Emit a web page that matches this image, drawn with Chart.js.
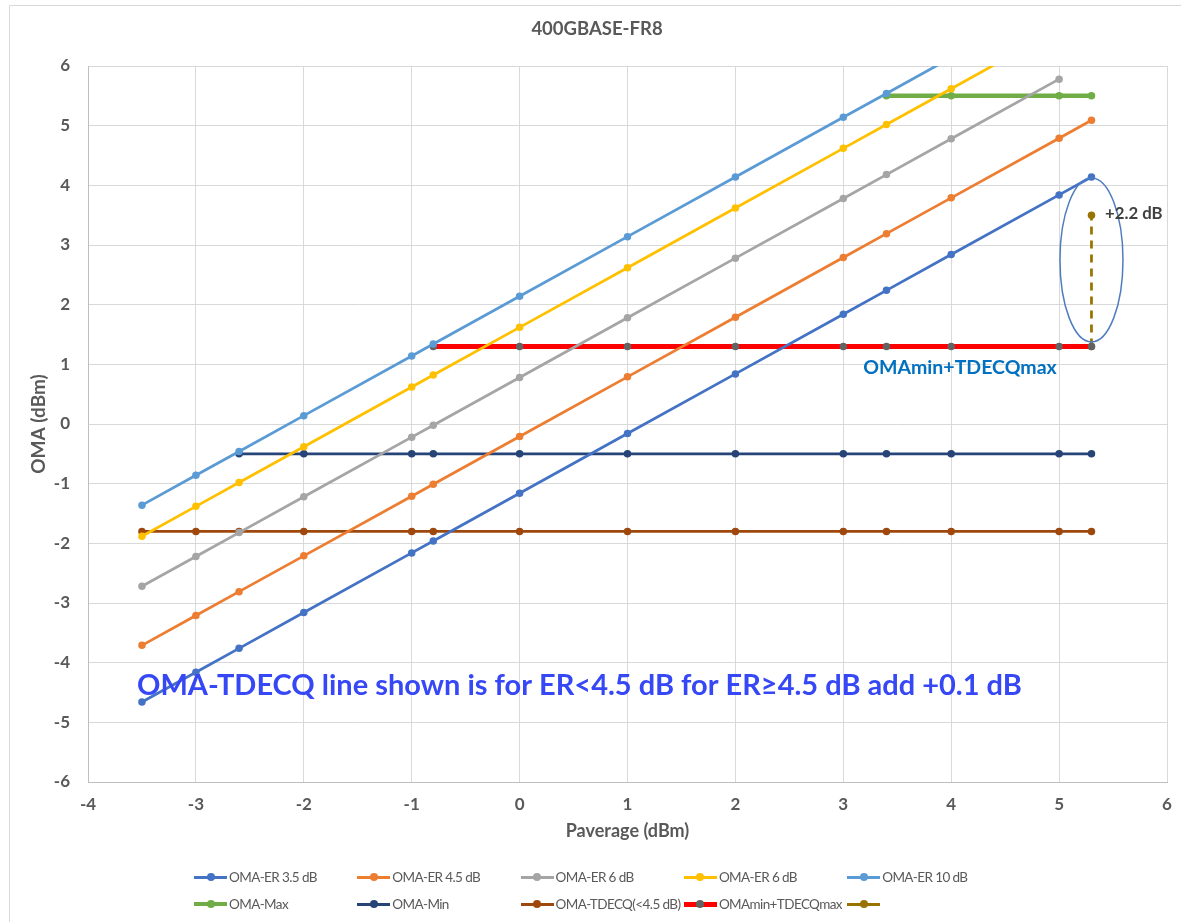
<!DOCTYPE html>
<html>
<head>
<meta charset="utf-8">
<script src="https://cdn.jsdelivr.net/npm/chart.js@4/dist/chart.umd.min.js"></script>
<style>
  html, body { margin: 0; padding: 0; background: #fff; }
  #wrap { position: relative; width: 1181px; height: 922px; overflow: hidden; }
  #c { position: absolute; left: 0; top: 0; }
  .lg { position: absolute; display: flex; align-items: center; font-family: Lato, "Open Sans", sans-serif; font-size: 13.5px; letter-spacing: -0.6px; color: #595959; white-space: nowrap; }
  .sym { position: relative; width: 33px; height: 10px; margin-right: 2px; }
  .sym .ln { position: absolute; left: 0; right: 0; top: 50%; }
  .sym .dt { position: absolute; left: 50%; top: 50%; width: 8px; height: 8px; margin: -4px 0 0 -4px; border-radius: 50%; }
</style>
</head>
<body>
<div id="wrap">
  <canvas id="c" width="1181" height="922"></canvas>
  <div id="legend"></div>
</div>
<script>
// ---- data ----
const pavg = [-3.5, -3, -2.6, -2, -1, -0.8, 0, 1, 2, 3, 3.4, 4, 5, 5.3];
const omaEr35 = [-4.66, -4.16, -3.76, -3.16, -2.16, -1.96, -1.16, -0.16, 0.84, 1.84, 2.24, 2.84, 3.84, 4.14];
const omaEr45 = [-3.71, -3.21, -2.81, -2.21, -1.21, -1.01, -0.21, 0.79, 1.79, 2.79, 3.19, 3.79, 4.79, 5.09];
const omaEr6a = [-2.72, -2.22, -1.82, -1.22, -0.22, -0.02, 0.78, 1.78, 2.78, 3.78, 4.18, 4.78, 5.78, null];
const omaEr6b = [-1.88, -1.38, -0.98, -0.38, 0.62, 0.82, 1.62, 2.62, 3.62, 4.62, 5.02, 5.62, 6.62, null];
const omaEr10 = [-1.36, -0.86, -0.46, 0.14, 1.14, 1.34, 2.14, 3.14, 4.14, 5.14, 5.54, 6.14, null, null];
const omaMax = [null, null, null, null, null, null, null, null, null, null, 5.5, 5.5, 5.5, 5.5];
const omaMin = [null, null, -0.5, -0.5, -0.5, -0.5, -0.5, -0.5, -0.5, -0.5, -0.5, -0.5, -0.5, -0.5];
const omaTdecq = [-1.8, -1.8, -1.8, -1.8, -1.8, -1.8, -1.8, -1.8, -1.8, -1.8, -1.8, -1.8, -1.8, -1.8];
const omaMinTdecqMax = [null, null, null, null, null, 1.3, 1.3, 1.3, 1.3, 1.3, 1.3, 1.3, 1.3, 1.3];
const deltaX = [5.3, 5.3];
const deltaY = [1.3, 3.5];
const seriesNames = ['OMA-ER 3.5 dB', 'OMA-ER 4.5 dB', 'OMA-ER 6 dB', 'OMA-ER 6 dB', 'OMA-ER 10 dB',
                     'OMA-Max', 'OMA-Min', 'OMA-TDECQ(<4.5 dB)', 'OMAmin+TDECQmax', ''];
const xTicks = [-4, -3, -2, -1, 0, 1, 2, 3, 4, 5, 6];
const yTicks = [-6, -5, -4, -3, -2, -1, 0, 1, 2, 3, 4, 5, 6];
const titleText = '400GBASE-FR8';
const xTitle = 'Paverage (dBm)';
const yTitle = 'OMA (dBm)';
const noteDelta = '+2.2 dB';
const noteLimit = 'OMAmin+TDECQmax';
const noteMain = 'OMA-TDECQ line shown is for ER<4.5 dB for ER≥4.5 dB add +0.1 dB';

function pts(xs, ys) {
  const out = [];
  for (let i = 0; i < xs.length; i++) if (ys[i] !== null) out.push({ x: xs[i], y: ys[i] });
  return out;
}

const styles = [
  { c: '#4472C4', w: 2.75 },
  { c: '#ED7D31', w: 2.75 },
  { c: '#A5A5A5', w: 2.75 },
  { c: '#FFC000', w: 2.75 },
  { c: '#5B9BD5', w: 2.75 },
  { c: '#70AD47', w: 4.5 },
  { c: '#264478', w: 2.75 },
  { c: '#9E480E', w: 2.75 },
  { c: '#FF0000', w: 5, m: '#636363' },
  { c: '#997300', w: 2.75, dash: [8, 6] }
];
const seriesData = [
  pts(pavg, omaEr35), pts(pavg, omaEr45), pts(pavg, omaEr6a), pts(pavg, omaEr6b), pts(pavg, omaEr10),
  pts(pavg, omaMax), pts(pavg, omaMin), pts(pavg, omaTdecq), pts(pavg, omaMinTdecqMax), pts(deltaX, deltaY)
];

const datasets = seriesData.map((d, i) => ({
  label: seriesNames[i],
  data: d,
  showLine: true,
  borderColor: styles[i].c,
  borderWidth: styles[i].w,
  borderDash: styles[i].dash || [],
  backgroundColor: styles[i].m || styles[i].c,
  pointBackgroundColor: styles[i].m || styles[i].c,
  pointBorderColor: styles[i].m || styles[i].c,
  pointRadius: 3.75,
  pointBorderWidth: 0,
  tension: 0
}));

const FONT = 'Lato, "Open Sans", sans-serif';

function fitFont(ctx, text, weight, target, base) {
  ctx.font = weight + ' ' + base + 'px ' + FONT;
  const w = ctx.measureText(text).width;
  return base * target / w;
}

const framePlugin = {
  id: 'frame',
  beforeDraw(chart) {
    const ctx = chart.ctx;
    ctx.save();
    ctx.strokeStyle = '#d9d9d9';
    ctx.lineWidth = 1;
    ctx.beginPath();
    ctx.moveTo(9.5, 930);
    ctx.lineTo(9.5, 5.5);
    ctx.lineTo(1190, 5.5);
    ctx.stroke();
    ctx.restore();
  }
};

const notesPlugin = {
  id: 'notes',
  afterDatasetsDraw(chart) {
    const ctx = chart.ctx;
    const xs = chart.scales.x, ys = chart.scales.y;
    ctx.save();
    // ellipse around the +2.2 dB span
    const cx = xs.getPixelForValue(5.3), cy = ys.getPixelForValue(2.75);
    const rx = xs.getPixelForValue(5.3 + 0.292) - cx;
    const ry = cy - ys.getPixelForValue(2.75 + 1.374);
    ctx.strokeStyle = '#4F7CC0';
    ctx.lineWidth = 1.5;
    ctx.beginPath();
    ctx.ellipse(cx, cy, rx, ry, 0, 0, Math.PI * 2);
    ctx.stroke();

    ctx.textBaseline = 'middle';
    ctx.textAlign = 'left';

    // +2.2 dB
    const dx0 = xs.getPixelForValue(5.425), dx1 = xs.getPixelForValue(5.96);
    let s = fitFont(ctx, noteDelta, 'bold', dx1 - dx0, 15);
    ctx.font = 'bold ' + s.toFixed(2) + 'px ' + FONT;
    ctx.fillStyle = '#404040';
    ctx.fillText(noteDelta, dx0, ys.getPixelForValue(3.53));

    // OMAmin+TDECQmax
    const lx0 = xs.getPixelForValue(3.185), lx1 = xs.getPixelForValue(4.98);
    s = fitFont(ctx, noteLimit, 'bold', lx1 - lx0, 17);
    ctx.font = 'bold ' + s.toFixed(2) + 'px ' + FONT;
    ctx.fillStyle = '#0070C0';
    ctx.fillText(noteLimit, lx0, ys.getPixelForValue(0.95));

    // main note
    const mx0 = xs.getPixelForValue(-3.546), mx1 = xs.getPixelForValue(4.656);
    s = fitFont(ctx, noteMain, 'bold', mx1 - mx0, 27);
    ctx.font = 'bold ' + s.toFixed(2) + 'px ' + FONT;
    ctx.fillStyle = '#3647F5';
    ctx.fillText(noteMain, mx0, ys.getPixelForValue(-4.39));
    ctx.restore();
  }
};

const tickColor = '#595959';
const chart = new Chart(document.getElementById('c'), {
  type: 'scatter',
  data: { datasets },
  plugins: [framePlugin, notesPlugin],
  options: {
    responsive: false,
    animation: false,
    devicePixelRatio: 1,
    layout: { padding: { left: 27, right: 14, top: 0, bottom: 80 } },
    plugins: {
      legend: { display: false },
      tooltip: { enabled: false },
      title: {
        display: true,
        text: titleText,
        color: tickColor,
        font: { family: FONT, size: 18.5, weight: 'bold', lineHeight: 1.2 },
        padding: { top: 18, bottom: 25.8 }
      }
    },
    scales: {
      x: {
        type: 'linear',
        min: -4, max: 6,
        afterBuildTicks(scale) { scale.ticks = xTicks.map(v => ({ value: v })); },
        afterFit(scale) { scale.height = 60; scale.paddingLeft = 0; scale.paddingRight = 0; },
        ticks: { color: tickColor, padding: 12, font: { family: FONT, size: 17, weight: 'bold' } },
        grid: { color: '#d9d9d9', lineWidth: 1, drawTicks: false },
        border: { color: '#bfbfbf', width: 1 },
        title: { display: true, text: xTitle, color: tickColor, padding: { top: 0, bottom: 0 },
                 font: { family: FONT, size: 18, weight: 'bold', lineHeight: 1.2 } }
      },
      y: {
        type: 'linear',
        min: -6, max: 6,
        afterBuildTicks(scale) { scale.ticks = yTicks.map(v => ({ value: v })); },
        afterFit(scale) { scale.width = 61; scale.paddingTop = 0; scale.paddingBottom = 0; },
        ticks: { color: tickColor, padding: 18, font: { family: FONT, size: 17, weight: 'bold' } },
        grid: { color: '#d9d9d9', lineWidth: 1, drawTicks: false },
        border: { color: '#bfbfbf', width: 1 },
        title: { display: true, text: yTitle, color: tickColor, padding: { top: 0, bottom: 0 },
                 font: { family: FONT, size: 19, weight: 'bold', lineHeight: 1.2 } }
      }
    }
  }
});

// HTML legend built from the chart's datasets, Excel-style grid
const legend = document.getElementById('legend');
chart.data.datasets.forEach((ds, i) => {
  const col = i % 5, row = Math.floor(i / 5);
  const item = document.createElement('div');
  item.className = 'lg';
  item.style.left = (194 + col * 163.3) + 'px';
  item.style.top = (row === 0 ? 869 : 896) + 'px';
  item.style.height = '16px';
  const sym = document.createElement('div');
  sym.className = 'sym';
  const ln = document.createElement('div');
  ln.className = 'ln';
  const lw = Math.max(3, ds.borderWidth);
  ln.style.height = lw + 'px';
  ln.style.marginTop = (-lw / 2) + 'px';
  ln.style.background = ds.borderColor;
  const dt = document.createElement('div');
  dt.className = 'dt';
  dt.style.background = ds.pointBackgroundColor;
  sym.appendChild(ln); sym.appendChild(dt);
  item.appendChild(sym);
  const tx = document.createElement('span');
  tx.textContent = ds.label;
  item.appendChild(tx);
  legend.appendChild(item);
});
</script>
</body>
</html>
